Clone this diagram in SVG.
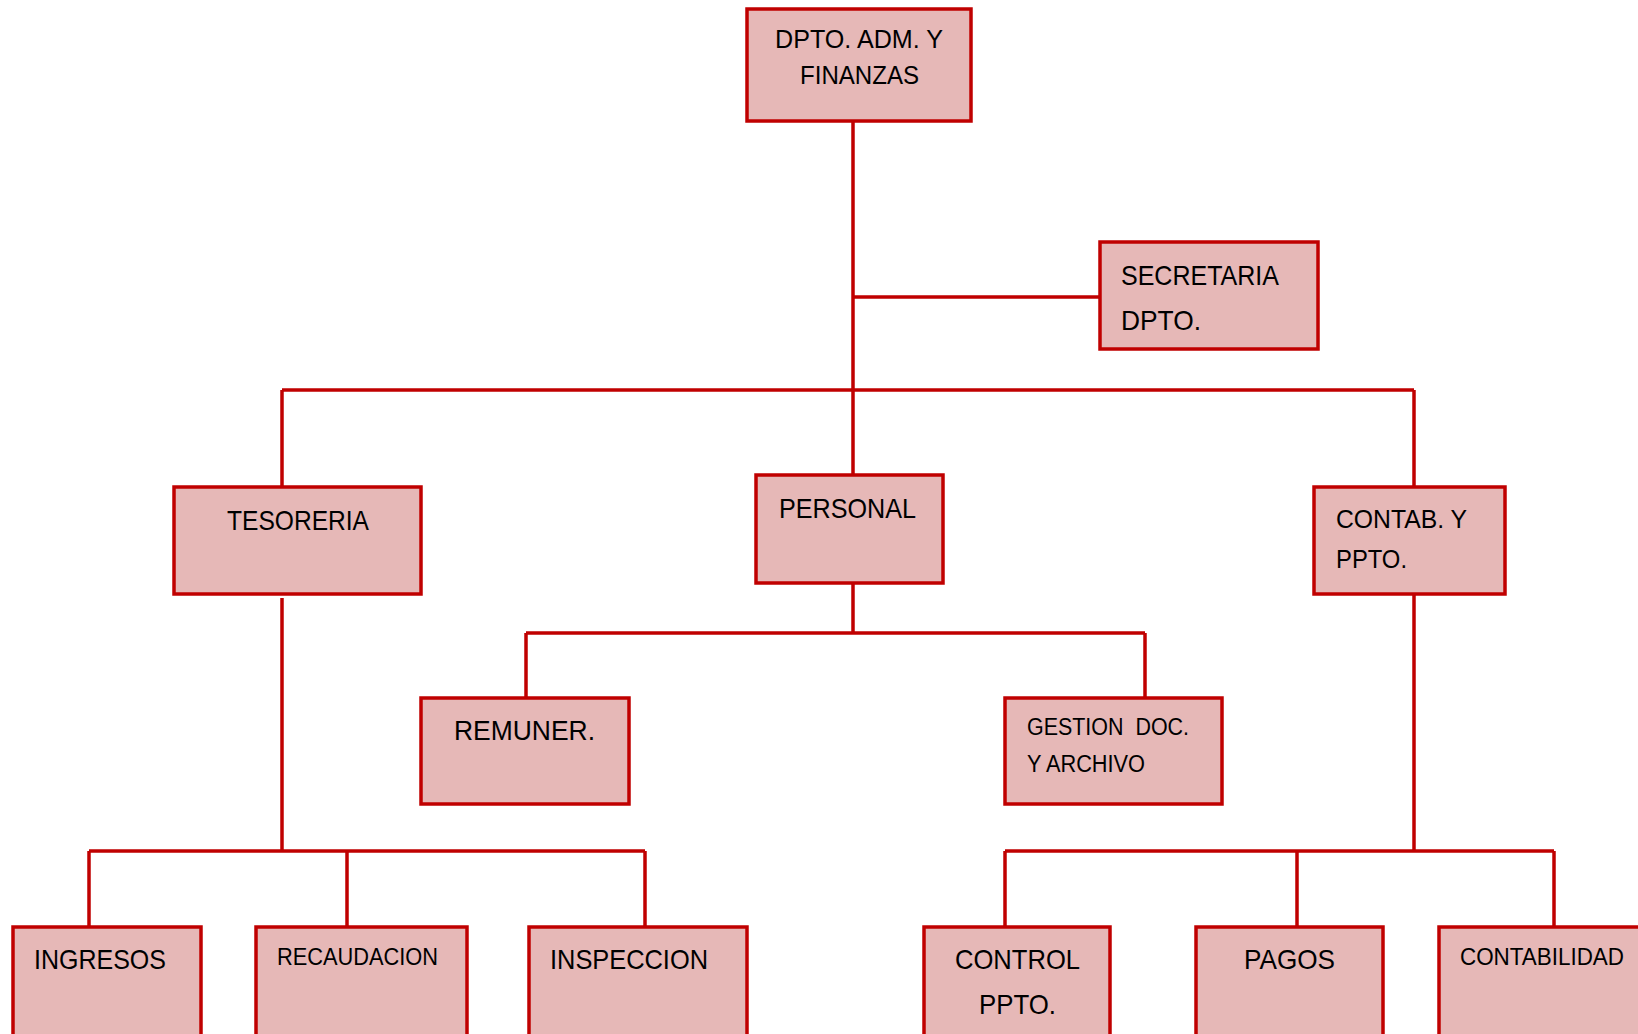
<svg xmlns="http://www.w3.org/2000/svg" width="1638" height="1034" viewBox="0 0 1638 1034">
<style>
.box{fill:#E6B8B7;stroke:#C00000;stroke-width:3.5}
.c{stroke:#C00000;stroke-width:3.5;fill:none}
text{font-family:"Liberation Sans",Arial,sans-serif;fill:#000;font-size:28px}
.s{font-size:23px}
.m{font-size:26px}
</style>
<rect width="1638" height="1034" fill="#fff"/>
<g id="connectors">
<path class="c" d="M853 121V475M853 297H1100M282 390H1414M282 390V487M1414 390V487"/>
<path class="c" d="M853 583V633M526 633H1145M526 633V698M1145 633V698"/>
<path class="c" d="M282 598V851M89 851H645M89 851V927M347 851V927M645 851V927"/>
<path class="c" d="M1414 594V851M1005 851H1554M1005 851V927M1297 851V927M1554 851V927"/>
</g>
<g id="n-dpto"><rect class="box" x="747" y="9" width="224" height="112"/>
<text class="m" x="775" y="48" textLength="168" lengthAdjust="spacingAndGlyphs">DPTO. ADM. Y</text>
<text class="m" x="800" y="84" textLength="119" lengthAdjust="spacingAndGlyphs">FINANZAS</text></g>
<g id="n-secretaria"><rect class="box" x="1100" y="242" width="218" height="107"/>
<text x="1121" y="285" textLength="158" lengthAdjust="spacingAndGlyphs">SECRETARIA</text>
<text x="1121" y="330" textLength="80" lengthAdjust="spacingAndGlyphs">DPTO.</text></g>
<g id="n-tesoreria"><rect class="box" x="174" y="487" width="247" height="107"/>
<text x="227" y="530" textLength="142" lengthAdjust="spacingAndGlyphs">TESORERIA</text></g>
<g id="n-personal"><rect class="box" x="756" y="475" width="187" height="108"/>
<text x="779" y="518" textLength="137" lengthAdjust="spacingAndGlyphs">PERSONAL</text></g>
<g id="n-contab"><rect class="box" x="1314" y="487" width="191" height="107"/>
<text class="m" x="1336" y="528" textLength="131" lengthAdjust="spacingAndGlyphs">CONTAB. Y</text>
<text class="m" x="1336" y="568" textLength="71" lengthAdjust="spacingAndGlyphs">PPTO.</text></g>
<g id="n-remuner"><rect class="box" x="421" y="698" width="208" height="106"/>
<text x="454" y="740" textLength="141" lengthAdjust="spacingAndGlyphs">REMUNER.</text></g>
<g id="n-gestion"><rect class="box" x="1005" y="698" width="217" height="106"/>
<text class="s" x="1027" y="735" textLength="162" lengthAdjust="spacingAndGlyphs" xml:space="preserve">GESTION  DOC.</text>
<text class="s" x="1027" y="772" textLength="118" lengthAdjust="spacingAndGlyphs">Y ARCHIVO</text></g>
<g id="n-ingresos"><rect class="box" x="13" y="927" width="188" height="120"/>
<text x="34" y="969" textLength="132" lengthAdjust="spacingAndGlyphs">INGRESOS</text></g>
<g id="n-recaudacion"><rect class="box" x="256" y="927" width="211" height="120"/>
<text class="s" x="277" y="965" textLength="161" lengthAdjust="spacingAndGlyphs">RECAUDACION</text></g>
<g id="n-inspeccion"><rect class="box" x="529" y="927" width="218" height="120"/>
<text x="550" y="969" textLength="158" lengthAdjust="spacingAndGlyphs">INSPECCION</text></g>
<g id="n-control"><rect class="box" x="924" y="927" width="186" height="120"/>
<text x="955" y="969" textLength="125" lengthAdjust="spacingAndGlyphs">CONTROL</text>
<text x="979" y="1014" textLength="77" lengthAdjust="spacingAndGlyphs">PPTO.</text></g>
<g id="n-pagos"><rect class="box" x="1196" y="927" width="187" height="120"/>
<text x="1244" y="969" textLength="91" lengthAdjust="spacingAndGlyphs">PAGOS</text></g>
<g id="n-contabilidad"><rect class="box" x="1439" y="927" width="210" height="120"/>
<text class="s" x="1460" y="965" textLength="164" lengthAdjust="spacingAndGlyphs">CONTABILIDAD</text></g>
</svg>
